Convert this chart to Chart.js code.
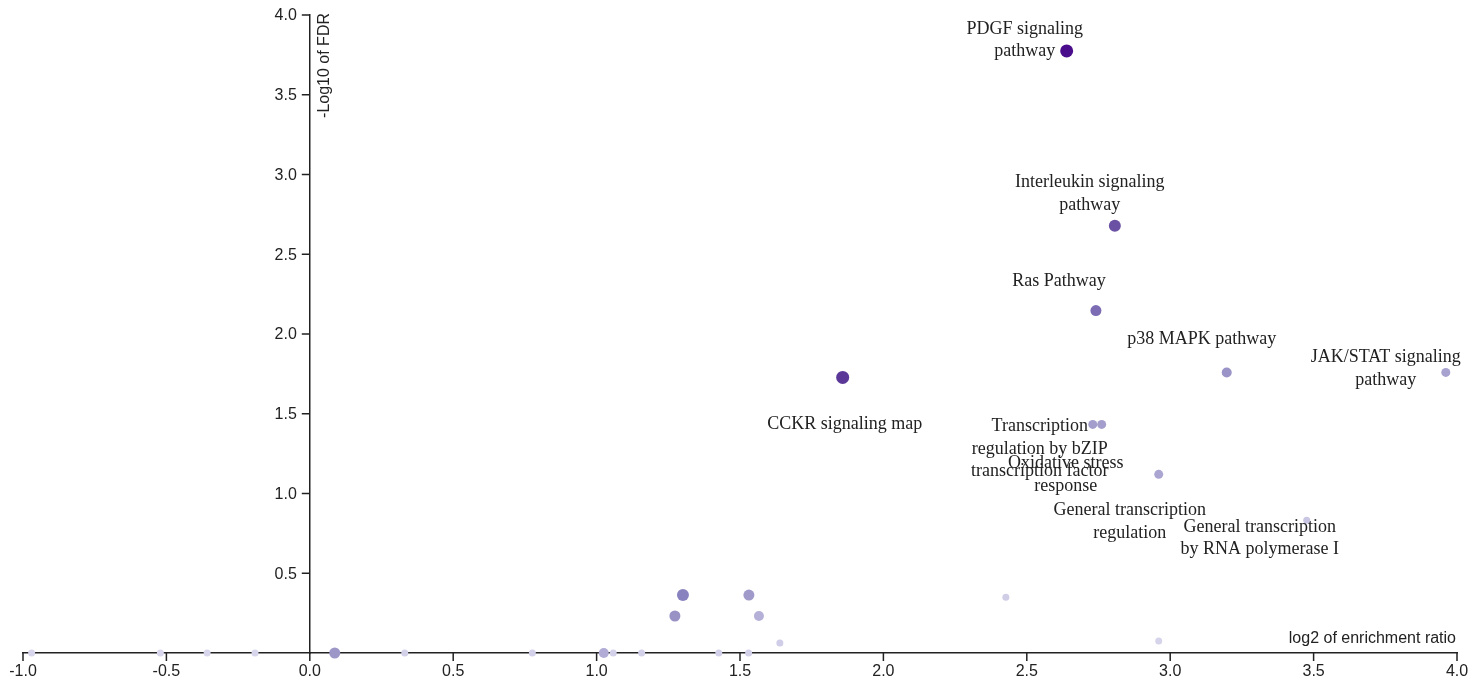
<!DOCTYPE html>
<html>
<head>
<meta charset="utf-8">
<script src="https://cdn.jsdelivr.net/npm/chart.js@4/dist/chart.umd.min.js"></script>
<style>
  html, body { margin: 0; padding: 0; background: #fff; }
  #wrap { width: 1483px; height: 685px; position: relative; }
</style>
</head>
<body>
<div id="wrap"><canvas id="c" width="1483" height="685"></canvas></div>
<script>
// ---- data ----
const termNames = [
  'PDGF signaling\npathway',
  'Interleukin signaling\npathway',
  'Ras Pathway',
  'CCKR signaling map',
  'p38 MAPK pathway',
  'JAK/STAT signaling\npathway',
  'Transcription\nregulation by bZIP\ntranscription factor',
  'Oxidative stress\nresponse',
  'General transcription\nregulation',
  'General transcription\nby RNA polymerase I',
  '', '', '', '', '', '', '',
  '', '', '', '', '', '', '', '', '', '', '', ''
];
const log2EnrichmentRatio = [
  2.639, 2.807, 2.741, 1.858, 3.197, 3.961, 2.730, 2.761, 2.960, 3.476,
  1.301, 1.531, 1.273, 1.566, 2.427, 2.960, 1.639,
  -0.970, -0.521, -0.358, -0.191, 0.087, 0.331, 0.776, 1.025, 1.058, 1.157, 1.426, 1.530
];
const negLog10FDR = [
  3.775, 2.679, 2.147, 1.728, 1.759, 1.759, 1.433, 1.433, 1.120, 0.833,
  0.363, 0.363, 0.232, 0.232, 0.350, 0.075, 0.063,
  0, 0, 0, 0, 0, 0, 0, 0, 0, 0, 0, 0
];
const xTicks = [-1.0, -0.5, 0.0, 0.5, 1.0, 1.5, 2.0, 2.5, 3.0, 3.5, 4.0];
const yTicks = [0.5, 1.0, 1.5, 2.0, 2.5, 3.0, 3.5, 4.0];

// ---- styles (separate from data) ----
const pointRadii = [
  6.5, 6, 5.5, 6.5, 5, 4.5, 4.5, 4.5, 4.5, 3.5,
  6, 5.5, 5.5, 5, 3.5, 3.5, 3.5,
  3.5, 3.5, 3.5, 3.5, 5.5, 3.5, 3.5, 5, 3.5, 3.5, 3.5, 3.5
];
const pointColors = [
  '#4a0d8b', '#6a51a3', '#7b6cb4', '#5b3897', '#9993c7', '#a7a2cf', '#a49ecc', '#a49ecc', '#aaa5d1', '#c9c6e3',
  '#8882bf', '#a09aca', '#9892c5', '#b4b0d8', '#d0cee7', '#d6d4ea', '#cfcde7',
  '#d8d6ec', '#d8d6ec', '#d8d6ec', '#d8d6ec', '#9d97c8', '#d3d1e9', '#d3d1e9', '#b0acd5', '#d3d1e9', '#d3d1e9', '#d3d1e9', '#d3d1e9'
];
// label placement offsets relative to the point (px): [dx, dy of first line centre]
const labelOffsets = [
  [-42, -22], [-25, -43], [-37, -29], [2, 47], [-25, -33], [-60, -15],
  [-53, 2], [-36, 39], [-29, 36], [-47, 7]
];

const points = log2EnrichmentRatio.map((x, i) => ({ x: x, y: negLog10FDR[i] }));

const sansFont = '16px "Liberation Sans", Arial, sans-serif';
const serifFont = '18px "Liberation Serif", "Times New Roman", serif';
const inkColor = '#222';

const axisPlugin = {
  id: 'crossAxes',
  afterDraw(chart) {
    const ctx = chart.ctx;
    const xs = chart.scales.x, ys = chart.scales.y;
    const x0 = xs.getPixelForValue(0);
    const y0 = ys.getPixelForValue(0);
    ctx.save();
    ctx.strokeStyle = inkColor;
    ctx.lineWidth = 1.5;
    ctx.fillStyle = inkColor;
    ctx.font = sansFont;
    // x ticks and labels
    ctx.textAlign = 'center';
    ctx.textBaseline = 'middle';
    xs.ticks.forEach(t => {
      const px = xs.getPixelForValue(t.value);
      ctx.beginPath();
      ctx.moveTo(px, y0);
      ctx.lineTo(px, y0 + 8);
      ctx.stroke();
      ctx.fillText(Number(t.value).toFixed(1), px, y0 + 19);
    });
    // y ticks and labels
    ctx.textAlign = 'right';
    ys.ticks.forEach(t => {
      if (t.value === 0) return;
      const py = ys.getPixelForValue(t.value);
      ctx.beginPath();
      ctx.moveTo(x0, py);
      ctx.lineTo(x0 - 8, py);
      ctx.stroke();
      ctx.fillText(Number(t.value).toFixed(1), x0 - 13, py + 1);
    });
    // axis titles
    ctx.textAlign = 'right';
    ctx.textBaseline = 'middle';
    ctx.fillText('log2 of enrichment ratio', xs.right - 1, y0 - 14);
    ctx.translate(x0 + 15, ys.top - 2);
    ctx.rotate(-Math.PI / 2);
    ctx.fillText('-Log10 of FDR', 0, 0);
    ctx.restore();

    // term labels
    const meta = chart.getDatasetMeta(0);
    ctx.save();
    ctx.font = serifFont;
    ctx.fillStyle = inkColor;
    ctx.textAlign = 'center';
    ctx.textBaseline = 'middle';
    termNames.forEach((name, i) => {
      if (!name) return;
      const el = meta.data[i];
      const off = labelOffsets[i] || [0, -20];
      name.split('\n').forEach((line, k) => {
        ctx.fillText(line, el.x + off[0], el.y + off[1] + k * 22.5);
      });
    });
    ctx.restore();
  }
};

new Chart(document.getElementById('c'), {
  type: 'scatter',
  data: {
    datasets: [{
      data: points,
      pointRadius: pointRadii,
      pointHoverRadius: pointRadii,
      pointBackgroundColor: pointColors,
      pointBorderWidth: 0,
      pointBorderColor: 'rgba(0,0,0,0)',
      clip: false
    }]
  },
  options: {
    responsive: false,
    animation: false,
    events: [],
    layout: { padding: { left: 23, right: 26, top: 15, bottom: 32 } },
    plugins: { legend: { display: false }, tooltip: { enabled: false } },
    scales: {
      x: {
        type: 'linear',
        min: -1, max: 4,
        position: { y: 0 },
        afterBuildTicks(s) { s.ticks = xTicks.map(v => ({ value: v })); },
        ticks: { display: false },
        grid: { display: false },
        border: { display: true, color: inkColor, width: 1.5 }
      },
      y: {
        type: 'linear',
        min: 0, max: 4,
        position: { x: 0 },
        afterBuildTicks(s) { s.ticks = yTicks.map(v => ({ value: v })); },
        ticks: { display: false },
        grid: { display: false },
        border: { display: true, color: inkColor, width: 1.5 }
      }
    }
  },
  plugins: [axisPlugin]
});
</script>
</body>
</html>
